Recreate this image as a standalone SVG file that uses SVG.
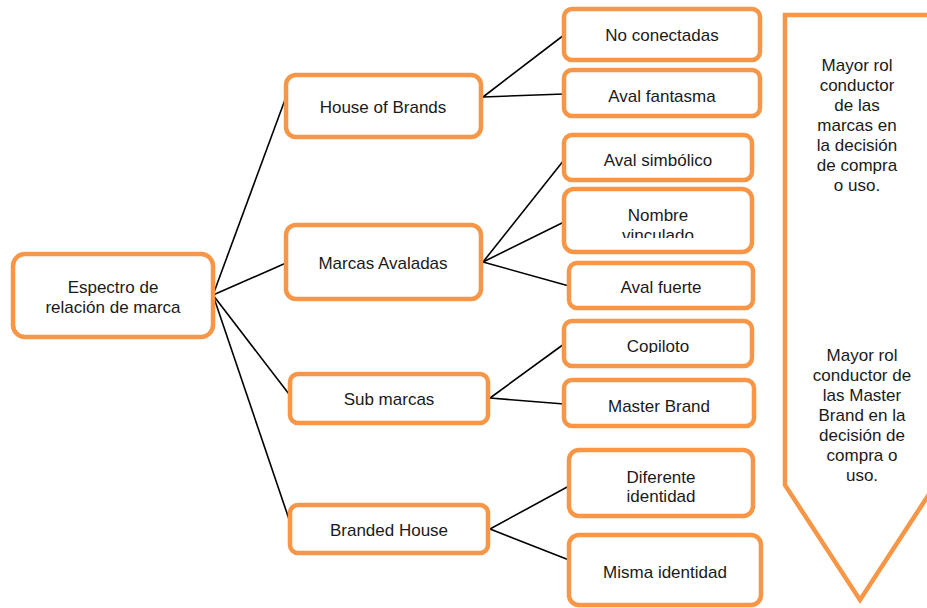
<svg xmlns="http://www.w3.org/2000/svg" width="927" height="608" viewBox="0 0 927 608">
<style>
.box{fill:#fff;stroke:#F79646;stroke-width:4.5}
.t{font-family:"Liberation Sans",Arial,sans-serif;font-size:17px;fill:#1a1a1a;text-anchor:middle}
.c{stroke:#000;stroke-width:1.6;fill:none}
</style>
<defs>
<clipPath id="clipNV"><rect x="560" y="185" width="200" height="53"/></clipPath>
<clipPath id="clipCo"><rect x="560" y="318" width="200" height="35"/></clipPath>
</defs>
<g id="connectors">
<line class="c" x1="213" y1="295" x2="286" y2="97"/>
<line class="c" x1="213" y1="295" x2="286" y2="263"/>
<line class="c" x1="213" y1="295" x2="292" y2="398"/>
<line class="c" x1="213" y1="295" x2="292" y2="528"/>
<line class="c" x1="483" y1="97" x2="564" y2="35"/>
<line class="c" x1="483" y1="97" x2="564" y2="94"/>
<line class="c" x1="483" y1="262" x2="564" y2="160"/>
<line class="c" x1="483" y1="262" x2="564" y2="222"/>
<line class="c" x1="483" y1="262" x2="569" y2="286"/>
<line class="c" x1="490" y1="398" x2="564" y2="344"/>
<line class="c" x1="490" y1="398" x2="564" y2="404"/>
<line class="c" x1="490" y1="529" x2="569" y2="486"/>
<line class="c" x1="490" y1="529" x2="569" y2="560"/>
</g>
<g id="root">
<rect class="box" x="13" y="254" width="200" height="83" rx="12"/>
<text class="t" x="113" y="293">Espectro de</text>
<text class="t" x="113" y="313">relación de marca</text>
</g>
<g id="houseOfBrands">
<rect class="box" x="286" y="75" width="195" height="62" rx="10"/>
<text class="t" x="383" y="113">House of Brands</text>
</g>
<g id="marcasAvaladas">
<rect class="box" x="286" y="225" width="195" height="74" rx="10"/>
<text class="t" x="383" y="269">Marcas Avaladas</text>
</g>
<g id="subMarcas">
<rect class="box" x="290" y="374" width="198" height="49" rx="8"/>
<text class="t" x="389" y="405">Sub marcas</text>
</g>
<g id="brandedHouse">
<rect class="box" x="290" y="505" width="198" height="48" rx="8"/>
<text class="t" x="389" y="536">Branded House</text>
</g>
<g id="noConectadas">
<rect class="box" x="564" y="9" width="196" height="51" rx="8"/>
<text class="t" x="662" y="41">No conectadas</text>
</g>
<g id="avalFantasma">
<rect class="box" x="564" y="70" width="196" height="46" rx="8"/>
<text class="t" x="662" y="102">Aval fantasma</text>
</g>
<g id="avalSimbolico">
<rect class="box" x="564" y="135" width="188" height="45" rx="8"/>
<text class="t" x="658" y="166">Aval simbólico</text>
</g>
<g id="nombreVinculado">
<rect class="box" x="564" y="189" width="188" height="63" rx="10"/>
<g clip-path="url(#clipNV)">
<text class="t" x="658" y="221">Nombre</text>
<text class="t" x="658" y="241">vinculado</text>
</g>
</g>
<g id="avalFuerte">
<rect class="box" x="569" y="263" width="184" height="45" rx="8"/>
<text class="t" x="661" y="293">Aval fuerte</text>
</g>
<g id="copiloto">
<rect class="box" x="564" y="321" width="188" height="45" rx="8"/>
<g clip-path="url(#clipCo)">
<text class="t" x="658" y="352">Copiloto</text>
</g>
</g>
<g id="masterBrand">
<rect class="box" x="564" y="380" width="190" height="46" rx="8"/>
<text class="t" x="659" y="412">Master Brand</text>
</g>
<g id="diferenteIdentidad">
<rect class="box" x="569" y="450" width="184" height="66" rx="10"/>
<text class="t" x="661" y="483">Diferente</text>
<text class="t" x="661" y="502">identidad</text>
</g>
<g id="mismaIdentidad">
<rect class="box" x="569" y="535" width="192" height="70" rx="10"/>
<text class="t" x="665" y="578">Misma identidad</text>
</g>
<g id="arrow">
<path class="box" d="M785,15 L935,15 L935,485 L860,600 L785,485 Z" stroke-width="5"/>
<text class="t" x="857" y="71">Mayor rol</text>
<text class="t" x="857" y="91">conductor</text>
<text class="t" x="857" y="111">de las</text>
<text class="t" x="857" y="131">marcas en</text>
<text class="t" x="857" y="151">la decisión</text>
<text class="t" x="857" y="171">de compra</text>
<text class="t" x="857" y="191">o uso.</text>
<text class="t" x="862" y="361">Mayor rol</text>
<text class="t" x="862" y="381">conductor de</text>
<text class="t" x="862" y="401">las Master</text>
<text class="t" x="862" y="421">Brand en la</text>
<text class="t" x="862" y="441">decisión de</text>
<text class="t" x="862" y="461">compra o</text>
<text class="t" x="862" y="481">uso.</text>
</g>
</svg>
